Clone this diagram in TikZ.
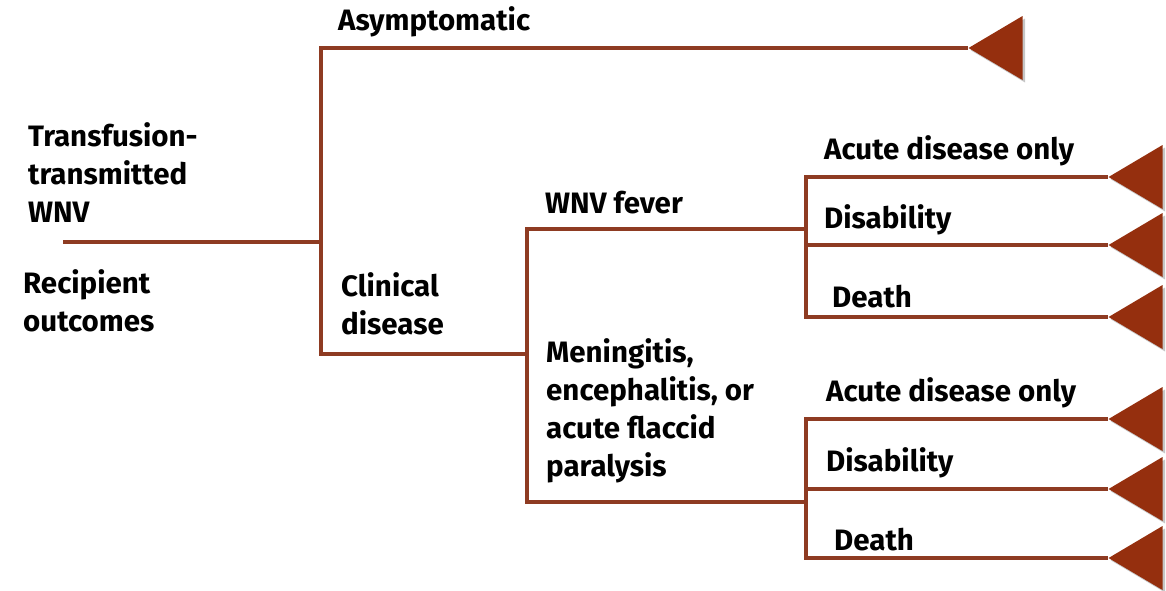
\documentclass[tikz,border=0pt]{standalone}
\usepackage{fontspec}
\setmainfont{Fira Sans}
\usetikzlibrary{shapes.geometric,shadows}
\definecolor{branchbrown}{HTML}{8E3B22}
\definecolor{leafbrown}{HTML}{952F0E}

\begin{document}
\begin{tikzpicture}[
  x=1pt, y=-1pt,
  branch/.style={draw=branchbrown, line width=4.2pt},
  leaf/.style={isosceles triangle, shape border rotate=180, isosceles triangle stretches,
    minimum height=54pt, minimum width=64pt, inner sep=0pt, fill=leafbrown,
    drop shadow={shadow xshift=2.5pt, shadow yshift=-2.5pt, opacity=.45}},
  lbl/.style={anchor=west, align=left, inner sep=0pt, font=\bfseries\fontsize{29.5}{38}\selectfont}
]
\useasboundingbox (0,0) rectangle (1166,590);
% chance points
\coordinate (root) at (63,242);
\coordinate (n1) at (321,242);
\coordinate (n2) at (527,354);
\coordinate (n3) at (806,229);
\coordinate (n4) at (806,502);
% terminal triangles
\node[leaf, anchor=apex] (asym) at (968,48) {};
\node[leaf, anchor=apex] (fa) at (1108,177) {};
\node[leaf, anchor=apex] (fd) at (1108,245) {};
\node[leaf, anchor=apex] (fx) at (1108,317) {};
\node[leaf, anchor=apex] (ma) at (1108,419) {};
\node[leaf, anchor=apex] (md) at (1108,489) {};
\node[leaf, anchor=apex] (mx) at (1108,558) {};
% branches
\draw[branch] (root) -- (n1);
\draw[branch] (n1) |- (asym.apex);
\draw[branch] (n1) |- (n2);
\draw[branch] (n2) |- (n3);
\draw[branch] (n2) |- (n4);
\draw[branch] (n3) |- (fa.apex);
\draw[branch] (n3) |- (fd.apex);
\draw[branch] (n3) |- (fx.apex);
\draw[branch] (n4) |- (ma.apex);
\draw[branch] (n4) |- (md.apex);
\draw[branch] (n4) |- (mx.apex);
% labels
\node[lbl] (tt) at (28,173) {Transfusion-\\transmitted\\WNV};
\node[lbl] (ro) at (23,301) {Recipient\\outcomes};
\node[lbl] (as) at (338,22) {Asymptomatic};
\node[lbl] (cd) at (341,304) {Clinical\\disease};
\node[lbl] (wf) at (545,203) {WNV fever};
\node[lbl] (me) at (546,411) {Meningitis,\\encephalitis, or\\acute flaccid\\paralysis};
\node[lbl] (l1) at (824,151) {Acute disease only};
\node[lbl] (l2) at (824,220) {Disability};
\node[lbl] (l3) at (832,297) {Death};
\node[lbl] (l4) at (826,393) {Acute disease only};
\node[lbl] (l5) at (826,463) {Disability};
\node[lbl] (l6) at (834,540) {Death};
\end{tikzpicture}
\end{document}
